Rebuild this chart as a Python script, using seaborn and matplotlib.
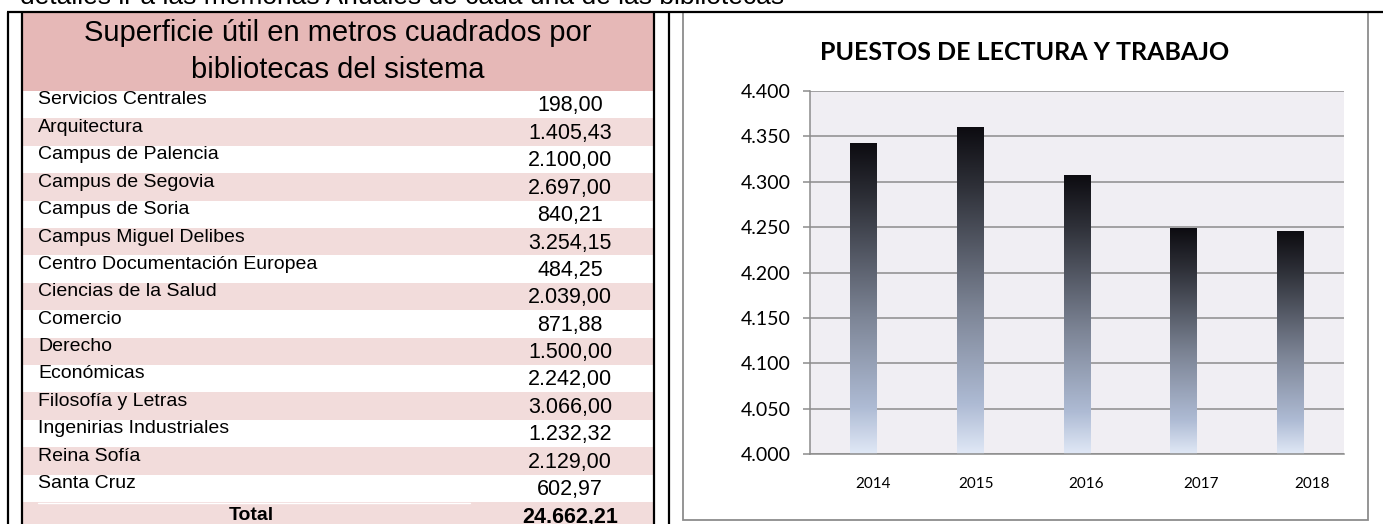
import numpy as np
import matplotlib
matplotlib.use("Agg")
import matplotlib.pyplot as plt
import seaborn as sns
from matplotlib.patches import Rectangle
from matplotlib.colors import LinearSegmentedColormap
import matplotlib.transforms as mtransforms
from matplotlib.ticker import FuncFormatter

# ---------------- data ----------------
intro_text = "detalles ir a las memorias Anuales de cada una de las bibliotecas"
table_title = ["Superficie útil en metros cuadrados por", "bibliotecas del sistema"]
libraries = [
    "Servicios Centrales", "Arquitectura", "Campus de Palencia", "Campus de Segovia",
    "Campus de Soria", "Campus Miguel Delibes", "Centro Documentación Europea",
    "Ciencias de la Salud", "Comercio", "Derecho", "Económicas", "Filosofía y Letras",
    "Ingenirias Industriales", "Reina Sofía", "Santa Cruz",
]
surface_m2 = [198.00, 1405.43, 2100.00, 2697.00, 840.21, 3254.15, 484.25, 2039.00,
              871.88, 1500.00, 2242.00, 3066.00, 1232.32, 2129.00, 602.97]
total_label = "Total"
total_m2 = 24662.21

chart_title = "PUESTOS DE LECTURA Y TRABAJO"
years = ["2014", "2015", "2016", "2017", "2018"]
puestos = [4342, 4360, 4307, 4248, 4245]
y_ticks = [4000, 4050, 4100, 4150, 4200, 4250, 4300, 4350, 4400]


def es_num(v, dec=2):
    s = f"{v:,.{dec}f}"
    return s.replace(",", "X").replace(".", ",").replace("X", ".")


# ---------------- figure ----------------
W, H = 1383, 524
sns.set_style("white")
plt.rcParams["font.family"] = ["Liberation Sans", "DejaVu Sans"]
plt.rcParams["text.color"] = "black"
plt.rcParams["ytick.labelcolor"] = "black"
plt.rcParams["xtick.labelcolor"] = "black"
fig = plt.figure(figsize=(W / 100, H / 100), dpi=100)

ax0 = fig.add_axes([0, 0, 1, 1])
ax0.set_xlim(0, W)
ax0.set_ylim(H, 0)
ax0.axis("off")

# intro line (cut at top, as in the source page)
ax0.text(20, 4.5, intro_text, fontsize=19, ha="left", va="baseline", color="black",
         family=["Liberation Sans"])

# table
tx0, tx1 = 22, 654
ax0.add_patch(Rectangle((tx0, 12), tx1 - tx0, 79, color="#e6b8b7", lw=0, zorder=1))
row_h = 27.4
row_top0 = 91
n_rows = len(libraries) + 1
for i in range(n_rows):
    y = row_top0 + i * row_h
    col = "white" if i % 2 == 0 else "#f2dcdb"
    ax0.add_patch(Rectangle((tx0, y), tx1 - tx0, row_h, color=col, lw=0, zorder=1))

ax0.text(338, 33, table_title[0], fontsize=21, ha="center", va="center", zorder=3)
ax0.text(338, 70, table_title[1], fontsize=21, ha="center", va="center", zorder=3)

for i, (name, val) in enumerate(zip(libraries, surface_m2)):
    y = row_top0 + i * row_h
    ax0.text(38, y + 9, name, fontsize=14, ha="left", va="center", zorder=3)
    ax0.text(570, y + 15, es_num(val), fontsize=15.5, ha="center", va="center", zorder=3)

yt = row_top0 + len(libraries) * row_h
ax0.plot([38, 470], [yt + 0.5, yt + 0.5], color="white", lw=1, zorder=2)
ax0.text(251, yt + 13, total_label, fontsize=14, fontweight="bold", ha="center",
         va="center", zorder=3)
ax0.text(570, yt + 15, es_num(total_m2), fontsize=15.5, fontweight="bold", ha="center",
         va="center", zorder=3)

# frame lines
ax0.plot([7, W], [12, 12], color="black", lw=1.6, zorder=5, solid_capstyle="butt")
for x in (8, 22, 654, 669):
    ax0.plot([x, x], [12, H], color="black", lw=1.6, zorder=5, solid_capstyle="butt")
ax0.add_patch(Rectangle((683, 12), 1368 - 683, 520 - 12, fill=False,
                        edgecolor="#8c8c8c", lw=1.3, zorder=4))

ax0.text(1025, 52, chart_title, fontsize=18, fontweight="bold", ha="center",
         va="center", family=["Lato", "DejaVu Sans"], zorder=3)

# ---------------- bar chart ----------------
px0, px1, py0, py1 = 810, 1344, 91, 454
ax = fig.add_axes([px0 / W, 1 - py1 / H, (px1 - px0) / W, (py1 - py0) / H])
ax.set_facecolor("#f0eef3")

sns.barplot(x=years, y=puestos, ax=ax, width=0.25, color="black",
            saturation=1, edgecolor="none")

cmap = LinearSegmentedColormap.from_list(
    "bar_grad",
    [(0.0, "#0d0c11"), (0.18, "#2e3038"), (0.56, "#7d8596"),
     (0.85, "#aebbd4"), (1.0, "#e0e8f6")])
grad = np.linspace(0, 1, 256).reshape(-1, 1)
for p in ax.patches:
    x0 = p.get_x()
    w = p.get_width()
    h = p.get_height()
    ax.imshow(grad, cmap=cmap, extent=[x0, x0 + w, y_ticks[0], h], origin="upper",
              aspect="auto", zorder=2, interpolation="bilinear")
    p.set_facecolor("none")

ax.set_xlim(-0.5, len(years) - 0.5)
ax.set_ylim(y_ticks[0], y_ticks[-1])
ax.set_yticks(y_ticks)
ax.yaxis.set_major_formatter(FuncFormatter(lambda v, _: es_num(v, 0)))
ax.set_axisbelow(True)
ax.yaxis.grid(True, color="#8c8c8c", lw=1.1)
ax.xaxis.grid(False)
for s in ("top", "right"):
    ax.spines[s].set_visible(False)
for s in ("left", "bottom"):
    ax.spines[s].set_color("#8c8c8c")
    ax.spines[s].set_linewidth(1.1)
ax.tick_params(axis="y", length=5, width=1.1, color="#8c8c8c", direction="out",
               labelsize=14, pad=9, left=True, labelcolor="black")
for lbl in ax.get_yticklabels():
    lbl.set_family(["Lato", "DejaVu Sans"])
ax.set_xticks(range(len(years)))
ax.set_xticklabels([])
ax.tick_params(axis="x", length=0)
ax.set_xlabel("")
ax.set_ylabel("")

label_dx_px = [10, 6, 9, 17, 21]
base = mtransforms.blended_transform_factory(ax.transData, ax.transAxes)
for i, (yr, dx) in enumerate(zip(years, label_dx_px)):
    tr = base + mtransforms.ScaledTranslation(dx / 100, 0, fig.dpi_scale_trans)
    ax.text(i, -30 / (py1 - py0), yr, transform=tr, ha="center", va="center",
            fontsize=11, color="black", family=["Lato", "DejaVu Sans"])

fig.savefig("out.png", dpi=100)
